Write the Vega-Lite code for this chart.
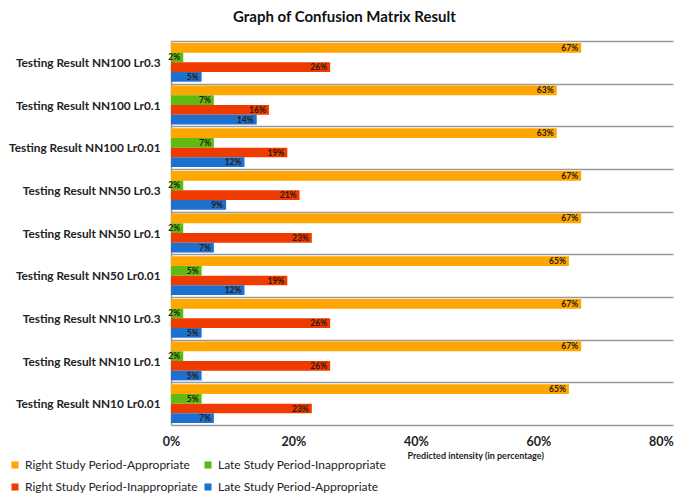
{
  "$schema": "https://vega.github.io/schema/vega-lite/v6.json",
  "autosize": {"type": "none"},
  "width": 502,
  "height": 384,
  "padding": {"left": 171, "top": 41, "right": 9, "bottom": 70},
  "background": "white",
  "title": {
    "text": "Graph of Confusion Matrix Result",
    "anchor": "start",
    "frame": "group",
    "dx": 62,
    "offset": 11,
    "font": "Lato",
    "fontSize": 15,
    "fontWeight": "bold",
    "color": "#111"
  },
  "config": {
    "view": {"stroke": null},
    "font": "Lato"
  },
  "data": {
    "values": [
      {"group": "Testing Result NN100 Lr0.3", "series": "Right Study Period-Appropriate", "value": 67},
      {"group": "Testing Result NN100 Lr0.3", "series": "Late Study Period-Inappropriate", "value": 2},
      {"group": "Testing Result NN100 Lr0.3", "series": "Right Study Period-Inappropriate", "value": 26},
      {"group": "Testing Result NN100 Lr0.3", "series": "Late Study Period-Appropriate", "value": 5},
      {"group": "Testing Result NN100 Lr0.1", "series": "Right Study Period-Appropriate", "value": 63},
      {"group": "Testing Result NN100 Lr0.1", "series": "Late Study Period-Inappropriate", "value": 7},
      {"group": "Testing Result NN100 Lr0.1", "series": "Right Study Period-Inappropriate", "value": 16},
      {"group": "Testing Result NN100 Lr0.1", "series": "Late Study Period-Appropriate", "value": 14},
      {"group": "Testing Result NN100 Lr0.01", "series": "Right Study Period-Appropriate", "value": 63},
      {"group": "Testing Result NN100 Lr0.01", "series": "Late Study Period-Inappropriate", "value": 7},
      {"group": "Testing Result NN100 Lr0.01", "series": "Right Study Period-Inappropriate", "value": 19},
      {"group": "Testing Result NN100 Lr0.01", "series": "Late Study Period-Appropriate", "value": 12},
      {"group": "Testing Result NN50 Lr0.3", "series": "Right Study Period-Appropriate", "value": 67},
      {"group": "Testing Result NN50 Lr0.3", "series": "Late Study Period-Inappropriate", "value": 2},
      {"group": "Testing Result NN50 Lr0.3", "series": "Right Study Period-Inappropriate", "value": 21},
      {"group": "Testing Result NN50 Lr0.3", "series": "Late Study Period-Appropriate", "value": 9},
      {"group": "Testing Result NN50 Lr0.1", "series": "Right Study Period-Appropriate", "value": 67},
      {"group": "Testing Result NN50 Lr0.1", "series": "Late Study Period-Inappropriate", "value": 2},
      {"group": "Testing Result NN50 Lr0.1", "series": "Right Study Period-Inappropriate", "value": 23},
      {"group": "Testing Result NN50 Lr0.1", "series": "Late Study Period-Appropriate", "value": 7},
      {"group": "Testing Result NN50 Lr0.01", "series": "Right Study Period-Appropriate", "value": 65},
      {"group": "Testing Result NN50 Lr0.01", "series": "Late Study Period-Inappropriate", "value": 5},
      {"group": "Testing Result NN50 Lr0.01", "series": "Right Study Period-Inappropriate", "value": 19},
      {"group": "Testing Result NN50 Lr0.01", "series": "Late Study Period-Appropriate", "value": 12},
      {"group": "Testing Result NN10 Lr0.3", "series": "Right Study Period-Appropriate", "value": 67},
      {"group": "Testing Result NN10 Lr0.3", "series": "Late Study Period-Inappropriate", "value": 2},
      {"group": "Testing Result NN10 Lr0.3", "series": "Right Study Period-Inappropriate", "value": 26},
      {"group": "Testing Result NN10 Lr0.3", "series": "Late Study Period-Appropriate", "value": 5},
      {"group": "Testing Result NN10 Lr0.1", "series": "Right Study Period-Appropriate", "value": 67},
      {"group": "Testing Result NN10 Lr0.1", "series": "Late Study Period-Inappropriate", "value": 2},
      {"group": "Testing Result NN10 Lr0.1", "series": "Right Study Period-Inappropriate", "value": 26},
      {"group": "Testing Result NN10 Lr0.1", "series": "Late Study Period-Appropriate", "value": 5},
      {"group": "Testing Result NN10 Lr0.01", "series": "Right Study Period-Appropriate", "value": 65},
      {"group": "Testing Result NN10 Lr0.01", "series": "Late Study Period-Inappropriate", "value": 5},
      {"group": "Testing Result NN10 Lr0.01", "series": "Right Study Period-Inappropriate", "value": 23},
      {"group": "Testing Result NN10 Lr0.01", "series": "Late Study Period-Appropriate", "value": 7}
    ]
  },
  "encoding": {
    "y": {
      "field": "group",
      "type": "nominal",
      "sort": null,
      "scale": {"paddingInner": 0, "paddingOuter": 0},
      "axis": {
        "title": null,
        "ticks": false,
        "domainColor": "#999",
        "domainWidth": 1.5,
        "grid": true,
        "gridColor": "#999",
        "gridWidth": 1.5,
        "tickBand": "extent",
        "labelFont": "Lato",
        "labelFontSize": 11.8,
        "labelFontWeight": "bold",
        "labelColor": "#222",
        "labelPadding": 11,
        "labelLimit": 200
      }
    },
    "yOffset": {
      "field": "series",
      "type": "nominal",
      "sort": ["Right Study Period-Appropriate", "Late Study Period-Inappropriate", "Right Study Period-Inappropriate", "Late Study Period-Appropriate"],
      "scale": {"paddingInner": 0, "paddingOuter": 0.2}
    },
    "x": {
      "field": "value",
      "type": "quantitative",
      "scale": {"domain": [0, 82], "nice": false},
      "axis": {
        "values": [0, 20, 40, 60, 80],
        "labelExpr": "datum.value + '%'",
        "labelFlush": false,
        "grid": false,
        "domain": false,
        "ticks": false,
        "labelFont": "Lato",
        "labelFontSize": 12.5,
        "labelFontWeight": "bold",
        "labelColor": "#222",
        "labelPadding": 10,
        "title": "Predicted intensity (in percentage)",
        "titleFont": "Lato",
        "titleFontSize": 9,
        "titleFontWeight": "bold",
        "titleColor": "#222",
        "titleAlign": "left",
        "titleAnchor": "start",
        "titleX": 236,
        "titleY": 30,
        "titleBaseline": "middle"
      }
    }
  },
  "layer": [
    {
      "mark": {"type": "bar"},
      "encoding": {
        "color": {
          "field": "series",
          "type": "nominal",
          "sort": ["Right Study Period-Appropriate", "Late Study Period-Inappropriate", "Right Study Period-Inappropriate", "Late Study Period-Appropriate"],
          "scale": {
            "domain": ["Right Study Period-Appropriate", "Late Study Period-Inappropriate", "Right Study Period-Inappropriate", "Late Study Period-Appropriate"],
            "range": ["#FFA600", "#5DBB12", "#EF3B00", "#1E70CF"]
          },
          "legend": {
            "title": null,
            "orient": "none",
            "direction": "horizontal",
            "legendX": -162,
            "legendY": 418,
            "columns": 2,
            "columnPadding": 4,
            "rowPadding": 10,
            "symbolType": "square",
            "symbolSize": 50,
            "symbolStrokeWidth": 0,
            "labelFont": "Lato",
            "labelFontSize": 12,
            "labelColor": "#222",
            "labelLimit": 250
          }
        }
      }
    },
    {
      "transform": [{"calculate": "datum.value + '%'", "as": "lbl"}],
      "mark": {"type": "text", "align": "right", "dx": -3, "baseline": "middle", "fontSize": 8.5, "fontWeight": "bold", "font": "Lato", "color": "#2a1a0a"},
      "encoding": {
        "text": {"field": "lbl", "type": "nominal"},
        "detail": {"field": "series"}
      }
    }
  ]
}
